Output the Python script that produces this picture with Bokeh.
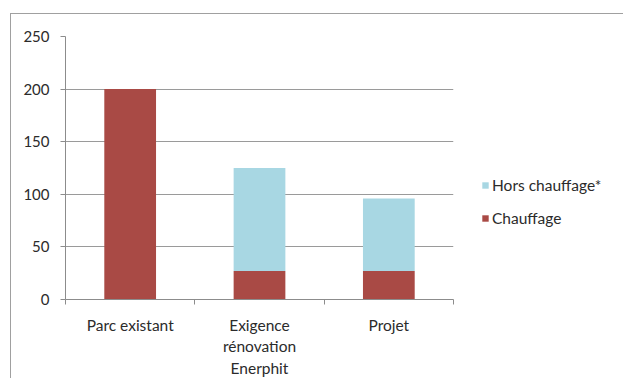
from bokeh.plotting import figure
from bokeh.models import FixedTicker, Legend, LegendItem, ColumnDataSource
from bokeh.embed import file_html
from bokeh.resources import INLINE

categories = ["Parc existant", "Exigence\nrénovation\nEnerphit", "Projet"]
chauffage = [200, 27, 27]
hors_chauffage = [0, 98, 69]
y_ticks = [0, 50, 100, 150, 200, 250]

RED = "#a94a45"
BLUE = "#a8d7e3"
FONT = "Lato"

xs = [i + 0.5 for i in range(len(categories))]
src = ColumnDataSource(dict(
    x=xs,
    c=chauffage,
    h=hors_chauffage,
    top2=[a + b for a, b in zip(chauffage, hors_chauffage)],
))

p = figure(frame_width=388, frame_height=263, x_range=(0, len(categories)), y_range=(0, 250),
           output_backend="svg", toolbar_location=None,
           min_border_left=54, min_border_right=171, min_border_top=22, min_border_bottom=80,
           styles={"margin-left": "10px", "margin-top": "13px",
                   "border-left": "1px solid #a0a0a0", "border-top": "1px solid #a0a0a0"})
p.outline_line_color = None

r_c = p.vbar(x="x", width=0.4, bottom=0, top="c", source=src, fill_color=RED, line_color=None)
r_h = p.vbar(x="x", width=0.4, bottom="c", top="top2", source=src, fill_color=BLUE, line_color=None)

# y axis
p.yaxis.ticker = FixedTicker(ticks=y_ticks)
p.yaxis.axis_line_color = "#8c8c8c"
p.yaxis.major_tick_line_color = "#8c8c8c"
p.yaxis.major_tick_out = 5
p.yaxis.major_tick_in = 0
p.yaxis.minor_tick_line_color = None
p.yaxis.major_label_text_font = FONT
p.yaxis.major_label_text_font_size = "15px"
p.yaxis.major_label_text_color = "#2b2b2b"
p.yaxis.major_label_standoff = 11

# x axis
p.xaxis.ticker = FixedTicker(ticks=xs, minor_ticks=list(range(len(categories) + 1)))
p.xaxis.major_label_overrides = {x: c for x, c in zip(xs, categories)}
p.xaxis.axis_line_color = "#8c8c8c"
p.xaxis.major_tick_line_color = None
p.xaxis.minor_tick_line_color = "#8c8c8c"
p.xaxis.minor_tick_out = 5
p.xaxis.minor_tick_in = 0
p.xaxis.major_label_text_font = FONT
p.xaxis.major_label_text_font_size = "15.5px"
p.xaxis.major_label_text_line_height = 1.2
p.xaxis.major_label_text_color = "#2b2b2b"
p.xaxis.major_label_standoff = 10

p.xgrid.grid_line_color = None
p.ygrid.ticker = FixedTicker(ticks=y_ticks)
p.ygrid.grid_line_color = "#9a9a9a"
p.ygrid.grid_line_width = 1

legend = Legend(items=[LegendItem(label="Hors chauffage*", renderers=[r_h]),
                       LegendItem(label="Chauffage", renderers=[r_c])],
                location=(28, 72))
legend.border_line_color = None
legend.background_fill_alpha = 0
legend.glyph_width = 8
legend.glyph_height = 8
legend.label_standoff = 3
legend.spacing = 15
legend.label_text_font = FONT
legend.label_text_font_size = "15.5px"
legend.label_text_color = "#2b2b2b"
p.add_layout(legend, "right")

open("out.html", "w").write(file_html(p, INLINE))
